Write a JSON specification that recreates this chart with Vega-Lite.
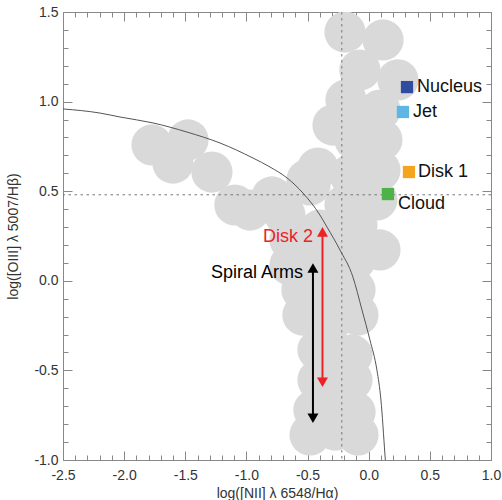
{
  "$schema": "https://vega.github.io/schema/vega-lite/v6.json",
  "width": 428,
  "height": 448,
  "autosize": "none",
  "padding": {"left": 63, "top": 12, "right": 11, "bottom": 40},
  "background": "white",
  "config": {
    "view": {"stroke": null},
    "axis": {
      "domainColor": "#888888",
      "tickColor": "#888888",
      "labelColor": "#333333",
      "titleColor": "#333333",
      "labelFont": "Liberation Sans",
      "titleFont": "Liberation Sans",
      "labelFontSize": 14,
      "titleFontSize": 14,
      "titleFontWeight": "normal",
      "grid": false,
      "zindex": 1
    }
  },
  "resolve": {"axis": {"x": "independent", "y": "independent"}, "scale": {"color": "independent", "shape": "independent"}},
  "datasets": {
    "blobs": [
      {"x": -0.194, "y": 1.388}, {"x": 0.117, "y": 1.344}, {"x": 0.239, "y": 1.121},
      {"x": -0.072, "y": 1.176}, {"x": -0.186, "y": 1.009}, {"x": -0.292, "y": 0.869},
      {"x": 0.092, "y": 0.953}, {"x": 0.108, "y": 0.786}, {"x": -0.112, "y": 0.786},
      {"x": -0.415, "y": 0.629}, {"x": 0.092, "y": 0.618}, {"x": -0.153, "y": 0.59},
      {"x": 0.067, "y": 0.451}, {"x": -0.194, "y": 0.423}, {"x": -0.48, "y": 0.535},
      {"x": -1.772, "y": 0.758}, {"x": -1.478, "y": 0.786}, {"x": -1.601, "y": 0.657},
      {"x": -1.282, "y": 0.607}, {"x": -1.094, "y": 0.423}, {"x": -0.791, "y": 0.468},
      {"x": -0.505, "y": 0.563}, {"x": -0.971, "y": 0.395}, {"x": -0.685, "y": 0.367},
      {"x": -0.644, "y": 0.228}, {"x": -0.399, "y": 0.283}, {"x": -0.096, "y": 0.311},
      {"x": 0.092, "y": 0.172}, {"x": -0.644, "y": 0.088}, {"x": -0.399, "y": 0.116},
      {"x": -0.112, "y": 0.116}, {"x": -0.546, "y": -0.051}, {"x": -0.112, "y": -0.051},
      {"x": -0.538, "y": -0.191}, {"x": -0.088, "y": -0.191}, {"x": -0.415, "y": -0.386},
      {"x": -0.137, "y": -0.414}, {"x": -0.415, "y": -0.554}, {"x": -0.137, "y": -0.554},
      {"x": -0.448, "y": -0.721}, {"x": -0.112, "y": -0.732}, {"x": -0.48, "y": -0.86},
      {"x": -0.088, "y": -0.86}, {"x": -0.276, "y": -0.833},
      {"x": -0.3, "y": -0.051}, {"x": -0.3, "y": -0.219}, {"x": -0.3, "y": -0.386},
      {"x": -0.3, "y": -0.554}, {"x": -0.3, "y": -0.721}, {"x": -0.25, "y": 0.15},
      {"x": -0.02, "y": 0.9}, {"x": -0.02, "y": 0.62}
    ],
    "curve": [
      {"x": -2.5, "y": 0.959}, {"x": -2.197, "y": 0.936}, {"x": -2.034, "y": 0.914},
      {"x": -1.764, "y": 0.881}, {"x": -1.486, "y": 0.83}, {"x": -1.216, "y": 0.769},
      {"x": -0.946, "y": 0.685}, {"x": -0.807, "y": 0.635}, {"x": -0.668, "y": 0.574},
      {"x": -0.538, "y": 0.49}, {"x": -0.399, "y": 0.367}, {"x": -0.341, "y": 0.3},
      {"x": -0.235, "y": 0.172}, {"x": -0.129, "y": 0.021}, {"x": -0.055, "y": -0.163},
      {"x": 0.01, "y": -0.33}, {"x": 0.067, "y": -0.498}, {"x": 0.1, "y": -0.665},
      {"x": 0.133, "y": -0.972}, {"x": 0.136, "y": -1.0}
    ],
    "vref": [{"x": -0.22}],
    "href": [{"y": 0.48}],
    "regions": [
      {"region": "Nucleus", "x": 0.313, "y": 1.081},
      {"region": "Jet", "x": 0.28, "y": 0.942},
      {"region": "Disk 1", "x": 0.329, "y": 0.607},
      {"region": "Cloud", "x": 0.157, "y": 0.484}
    ],
    "regionLabels": [
      {"label": "Nucleus", "x": 0.395, "y": 1.081},
      {"label": "Jet", "x": 0.362, "y": 0.942},
      {"label": "Disk 1", "x": 0.403, "y": 0.607},
      {"label": "Cloud", "x": 0.239, "y": 0.429}
    ],
    "arrows": [
      {"label": "Spiral Arms", "x": -0.456, "top": 0.072, "bottom": -0.767},
      {"label": "Disk 2", "x": -0.378, "top": 0.273, "bottom": -0.566}
    ],
    "heads": [
      {"label": "Spiral Arms", "end": "top", "x": -0.456, "y": 0.072},
      {"label": "Spiral Arms", "end": "bottom", "x": -0.456, "y": -0.767},
      {"label": "Disk 2", "end": "top", "x": -0.378, "y": 0.273},
      {"label": "Disk 2", "end": "bottom", "x": -0.378, "y": -0.566}
    ],
    "arrowLabels": [
      {"label": "Spiral Arms", "x": -0.538, "y": 0.044},
      {"label": "Disk 2", "x": -0.456, "y": 0.244}
    ]
  },
  "layer": [
    {
      "data": {"name": "blobs"},
      "mark": {"type": "point", "filled": true, "size": 1700, "color": "#d9d9d9", "opacity": 1, "clip": true},
      "encoding": {
        "x": {"field": "x", "type": "quantitative",
          "scale": {"domain": [-2.5, 1.0], "nice": false, "zero": false},
          "axis": {"orient": "bottom", "title": "log([NII] λ 6548/Hα)",
            "values": [-2.5, -2, -1.5, -1, -0.5, 0, 0.5, 1.0],
            "labelExpr": "replace(format(datum.value, '.1f'), '\u2212', '-')",
            "ticks": false, "tickSize": 0, "labelPadding": 8, "titlePadding": 4, "labelFlush": false, "labelOverlap": false}},
        "y": {"field": "y", "type": "quantitative",
          "scale": {"domain": [-1.0, 1.5], "nice": false, "zero": false},
          "axis": {"orient": "left", "title": "log([OIII] λ 5007/Hβ)",
            "values": [-1, -0.5, 0, 0.5, 1, 1.5],
            "labelExpr": "replace(format(datum.value, '.1f'), '\u2212', '-')",
            "ticks": false, "tickSize": 0, "labelPadding": 5, "titlePadding": 13, "labelFlush": false, "labelOverlap": false}}
      }
    },
    {
      "data": {"name": "vref"},
      "mark": {"type": "rule", "color": "#777777", "strokeDash": [2.5, 3.5], "strokeWidth": 1},
      "encoding": {
        "x": {"field": "x", "type": "quantitative",
          "scale": {"domain": [-2.5, 1.0], "nice": false, "zero": false},
          "axis": {"orient": "bottom", "title": null, "labels": false, "domain": false, "tickSize": 9, "offset": -9,
            "values": [-2.5, -2, -1.5, -1, -0.5, 0, 0.5, 1.0]}}
      }
    },
    {
      "data": {"name": "href"},
      "mark": {"type": "rule", "color": "#777777", "strokeDash": [2.5, 3.5], "strokeWidth": 1},
      "encoding": {
        "y": {"field": "y", "type": "quantitative",
          "scale": {"domain": [-1.0, 1.5], "nice": false, "zero": false},
          "axis": {"orient": "left", "title": null, "labels": false, "domain": false, "tickSize": 9, "offset": -9,
            "values": [-1, -0.5, 0, 0.5, 1, 1.5]}}
      }
    },
    {
      "data": {"name": "curve"},
      "mark": {"type": "line", "color": "#555555", "strokeWidth": 1, "interpolate": "monotone", "clip": true},
      "encoding": {
        "x": {"field": "x", "type": "quantitative",
          "scale": {"domain": [-2.5, 1.0], "nice": false, "zero": false},
          "axis": {"orient": "top", "title": null, "labels": false, "ticks": false}},
        "y": {"field": "y", "type": "quantitative",
          "scale": {"domain": [-1.0, 1.5], "nice": false, "zero": false},
          "axis": {"orient": "right", "title": null, "labels": false, "ticks": false}}
      }
    },
    {
      "data": {"name": "arrows"},
      "mark": {"type": "rule", "strokeWidth": 2},
      "encoding": {
        "x": {"field": "x", "type": "quantitative", "scale": {"domain": [-2.5, 1.0], "nice": false, "zero": false},
          "axis": {"orient": "top", "title": null, "labels": false, "domain": false, "tickSize": 9, "offset": -9,
            "values": [-2.5, -2, -1.5, -1, -0.5, 0, 0.5, 1.0]}},
        "y": {"field": "top", "type": "quantitative", "scale": {"domain": [-1.0, 1.5], "nice": false, "zero": false},
          "axis": {"orient": "right", "title": null, "labels": false, "domain": false, "tickSize": 9, "offset": -9,
            "values": [-1, -0.5, 0, 0.5, 1, 1.5]}},
        "y2": {"field": "bottom"},
        "color": {"field": "label", "type": "nominal", "scale": {"domain": ["Disk 2", "Spiral Arms"], "range": ["#ec2227", "#000000"]}, "legend": null}
      }
    },
    {
      "data": {"name": "heads"},
      "mark": {"type": "point", "filled": true, "size": 121, "opacity": 1},
      "encoding": {
        "x": {"field": "x", "type": "quantitative", "scale": {"domain": [-2.5, 1.0], "nice": false, "zero": false},
          "axis": {"orient": "bottom", "title": null, "labels": false, "domain": false, "tickSize": 5, "offset": -5,
            "values": [-2.4, -2.3, -2.2, -2.1, -1.9, -1.8, -1.7, -1.6, -1.4, -1.3, -1.2, -1.1, -0.9, -0.8, -0.7, -0.6, -0.4, -0.3, -0.2, -0.1, 0.1, 0.2, 0.3, 0.4, 0.6, 0.7, 0.8, 0.9]}},
        "y": {"field": "y", "type": "quantitative", "scale": {"domain": [-1.0, 1.5], "nice": false, "zero": false},
          "axis": {"orient": "left", "title": null, "labels": false, "domain": false, "tickSize": 5, "offset": -5,
            "values": [-0.9, -0.8, -0.7, -0.6, -0.4, -0.3, -0.2, -0.1, 0.1, 0.2, 0.3, 0.4, 0.6, 0.7, 0.8, 0.9, 1.1, 1.2, 1.3, 1.4]}},
        "shape": {"field": "end", "type": "nominal", "scale": {"domain": ["top", "bottom"], "range": ["triangle-up", "triangle-down"]}, "legend": null},
        "color": {"field": "label", "type": "nominal", "scale": {"domain": ["Disk 2", "Spiral Arms"], "range": ["#ec2227", "#000000"]}, "legend": null}
      }
    },
    {
      "data": {"name": "regions"},
      "mark": {"type": "point", "filled": true, "shape": "square", "size": 150, "opacity": 1},
      "encoding": {
        "x": {"field": "x", "type": "quantitative",
          "scale": {"domain": [-2.5, 1.0], "nice": false, "zero": false},
          "axis": {"orient": "top", "title": null, "labels": false, "domain": false, "tickSize": 5, "offset": -5,
            "values": [-2.4, -2.3, -2.2, -2.1, -1.9, -1.8, -1.7, -1.6, -1.4, -1.3, -1.2, -1.1, -0.9, -0.8, -0.7, -0.6, -0.4, -0.3, -0.2, -0.1, 0.1, 0.2, 0.3, 0.4, 0.6, 0.7, 0.8, 0.9]}},
        "y": {"field": "y", "type": "quantitative",
          "scale": {"domain": [-1.0, 1.5], "nice": false, "zero": false},
          "axis": {"orient": "right", "title": null, "labels": false, "domain": false, "tickSize": 5, "offset": -5,
            "values": [-0.9, -0.8, -0.7, -0.6, -0.4, -0.3, -0.2, -0.1, 0.1, 0.2, 0.3, 0.4, 0.6, 0.7, 0.8, 0.9, 1.1, 1.2, 1.3, 1.4]}},
        "color": {"field": "region", "type": "nominal",
          "scale": {"domain": ["Nucleus", "Jet", "Disk 1", "Cloud"], "range": ["#2f4c9e", "#5db6e6", "#f6a31d", "#4db348"]}, "legend": null}
      }
    },
    {
      "data": {"name": "regionLabels"},
      "mark": {"type": "text", "align": "left", "baseline": "middle", "font": "Liberation Sans", "fontSize": 18, "color": "#111111"},
      "encoding": {
        "x": {"field": "x", "type": "quantitative", "scale": {"domain": [-2.5, 1.0], "nice": false, "zero": false}, "axis": null},
        "y": {"field": "y", "type": "quantitative", "scale": {"domain": [-1.0, 1.5], "nice": false, "zero": false}, "axis": null},
        "text": {"field": "label"}
      }
    },
    {
      "data": {"name": "arrowLabels"},
      "mark": {"type": "text", "align": "right", "baseline": "middle", "font": "Liberation Sans", "fontSize": 18},
      "encoding": {
        "x": {"field": "x", "type": "quantitative", "scale": {"domain": [-2.5, 1.0], "nice": false, "zero": false}, "axis": null},
        "y": {"field": "y", "type": "quantitative", "scale": {"domain": [-1.0, 1.5], "nice": false, "zero": false}, "axis": null},
        "text": {"field": "label"},
        "color": {"field": "label", "type": "nominal", "scale": {"domain": ["Disk 2", "Spiral Arms"], "range": ["#ec2227", "#000000"]}, "legend": null}
      }
    }
  ]
}
